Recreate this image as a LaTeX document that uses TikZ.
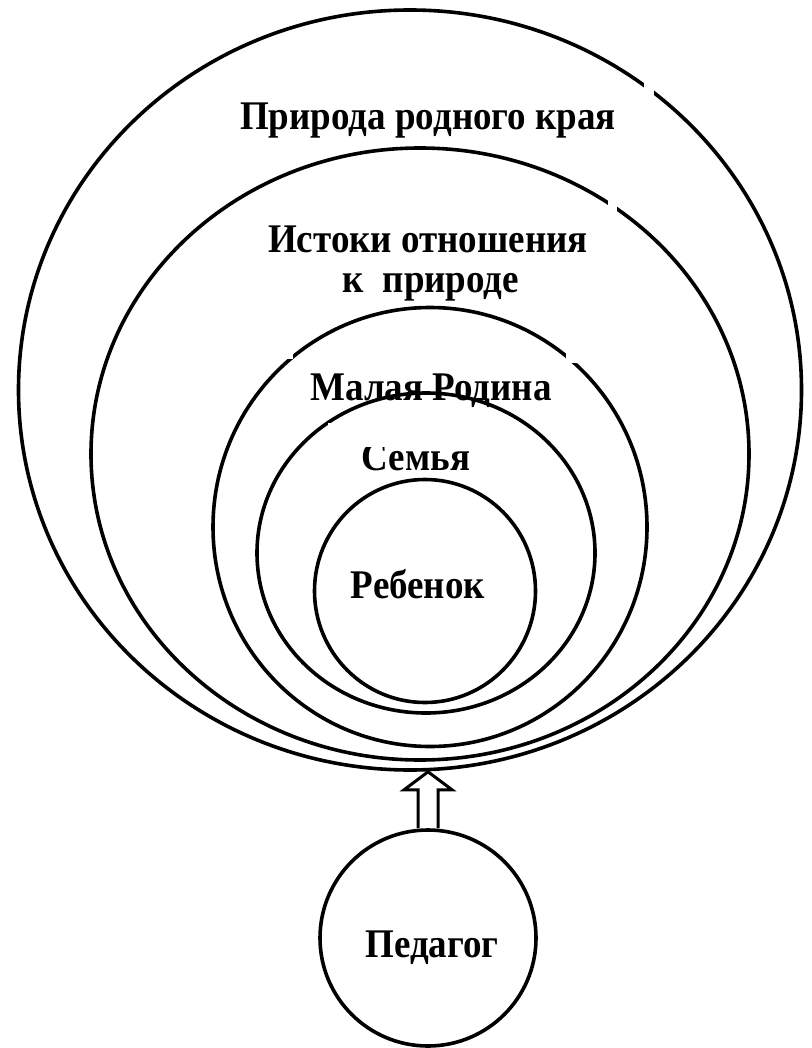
\documentclass[tikz,border=0pt]{standalone}
\usepackage{graphicx}
\usepackage{fontspec}
\setmainfont{Liberation Serif}
\usetikzlibrary{shapes.geometric,calc}
\newcommand\stretchtxt[1]{\scalebox{1}[1.1]{#1}}
\begin{document}
\begin{tikzpicture}[x=1pt,y=-1pt,
  ring/.style={draw, ellipse, line width=3.6pt, inner sep=0pt},
  lbl/.style={font=\fontsize{37}{44}\selectfont\bfseries, anchor=base, inner sep=0pt},
  gap/.style={fill=white, draw=none}]
\useasboundingbox[fill=white] (0,0) rectangle (811,1048);
% nested rings
\node[ring, minimum width=783pt, minimum height=760pt] (o1) at (410,390) {};
\node[ring, minimum width=658pt, minimum height=612pt] (o2) at (420,454) {};
\node[ring, minimum width=434pt, minimum height=439pt] (o3) at (430,527) {};
\node[ring, minimum width=338pt, minimum height=320pt] (o4) at (426,553) {};
\node[ring, minimum width=221pt, minimum height=223pt] (o5) at (425,591) {};
% small breaks in the ring lines
\fill[gap] (644,82) rectangle (654,95);
\fill[gap] (608,201) rectangle (617,212);
\fill[gap] (285,350) rectangle (293,359);
\fill[gap] (566,351) rectangle (577,363);
\fill[gap] (328,423) rectangle (333,431);
% teacher
\node[ring, minimum width=216pt, minimum height=216pt] (ped) at (428,938) {};
% labels
\node[lbl] (t1) at (428,130) {\stretchtxt{Природа родного края}};
\node[lbl] (t2) at (428,253) {\stretchtxt{Истоки отношения}};
\node[lbl] (t3) at (431,292) {\stretchtxt{к\ \ природе}};
\node[lbl] (t4) at (431,400) {\stretchtxt{Малая Родина}};
\node[lbl] (t5) at (416,470) {\stretchtxt{Семья}};
\node[lbl] (t6) at (418,598) {\stretchtxt{Ребенок}};
\node[lbl] (t7) at (432,957) {\stretchtxt{Педагог}};
\fill[gap] (355,434) rectangle (480,447);
% hollow arrow from teacher to the outer ring
\coordinate (tip) at (ped.north |- o1.south);
\coordinate (hb) at ($(tip)+(0,18)$);
\draw[line width=3pt, line join=miter]
  ([xshift=-10pt]ped.north) -- ([xshift=-10pt]ped.north |- hb)
  -- ([xshift=-24pt]ped.north |- hb) -- (tip)
  -- ([xshift=24pt]ped.north |- hb) -- ([xshift=10pt]ped.north |- hb)
  -- ([xshift=10pt]ped.north);
\end{tikzpicture}
\end{document}
